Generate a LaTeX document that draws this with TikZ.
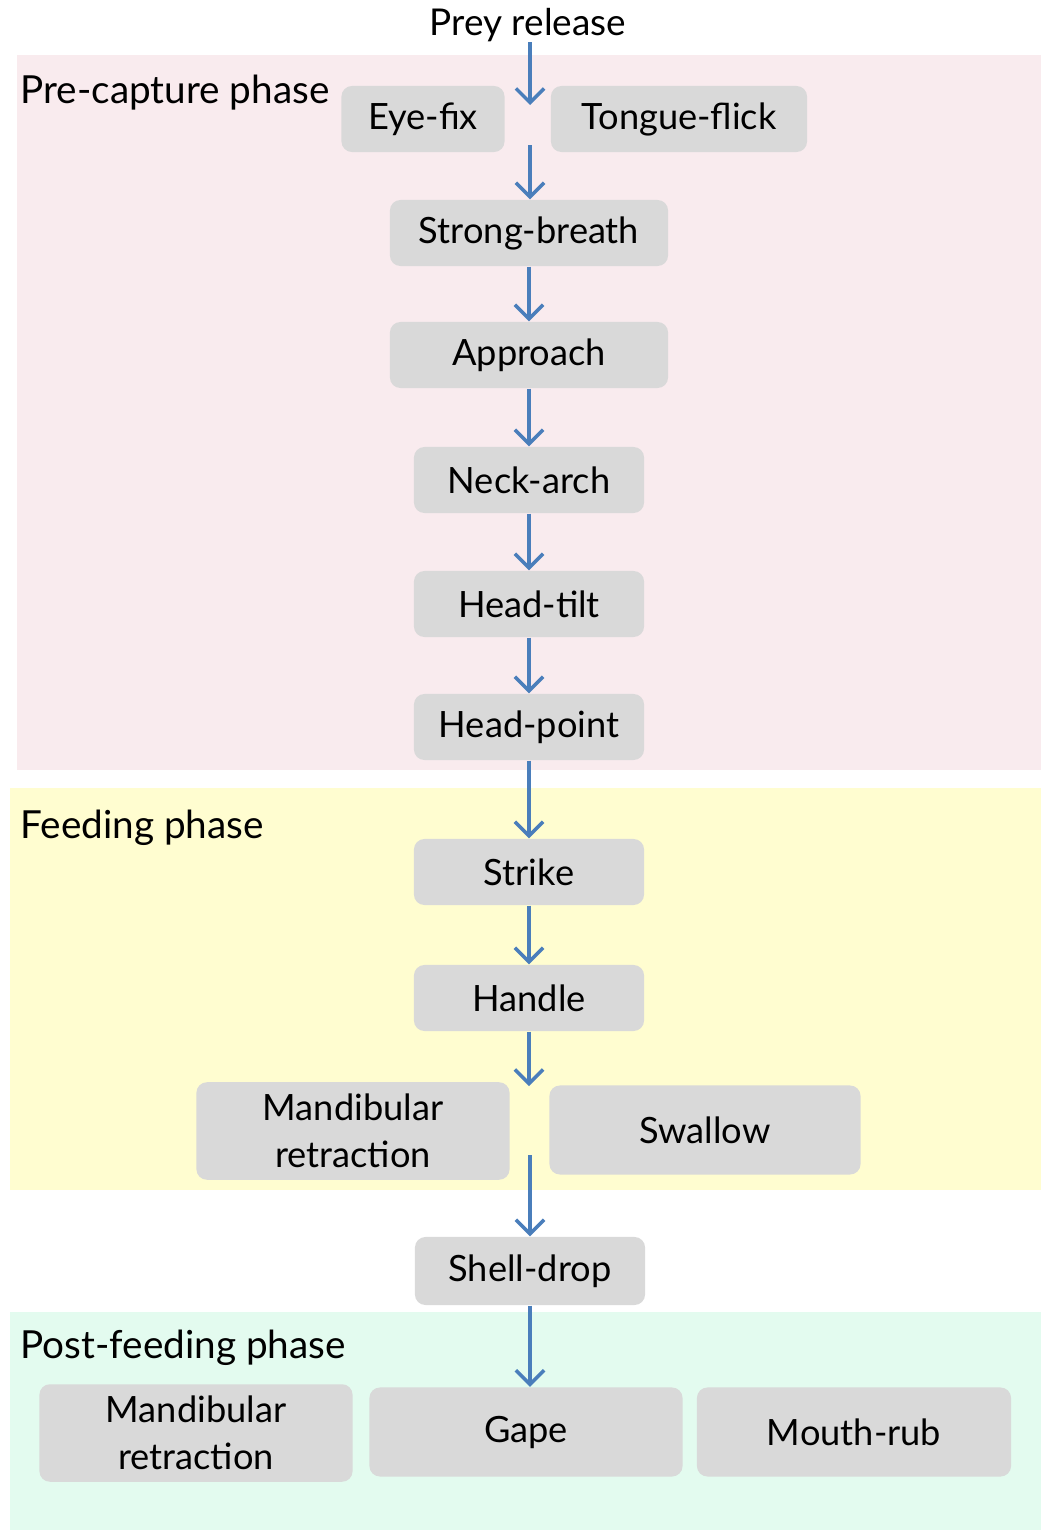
\documentclass[tikz,border=0pt]{standalone}
\usepackage{fontspec}
\setmainfont{Lato}
\usetikzlibrary{arrows.meta}
\definecolor{pinkbg}{RGB}{249,235,238}
\definecolor{yellowbg}{RGB}{255,253,208}
\definecolor{greenbg}{RGB}{227,251,239}
\definecolor{boxgray}{RGB}{217,217,217}
\definecolor{flowblue}{RGB}{74,126,187}
\tikzset{
  block/.style={
    rectangle,
    rounded corners=3pt,
    fill=boxgray,
    minimum height=0.66cm,
    align=center,
    font=\fontsize{10.3}{13.4}\selectfont
  }
}
\tikzset{
  phase/.style={
    anchor=west,
    inner sep=0pt,
    font=\fontsize{11}{13}\selectfont
  }
}
\tikzstyle{arrow} = [-{Straight Barb[length=4pt,width=8pt]}, draw=flowblue, line width=1pt]

\begin{document}
\begin{tikzpicture}[x=0.01cm, y=-0.01cm]
    \useasboundingbox (0,0) rectangle (1041,1530);
    % phase backgrounds
    \fill[pinkbg] (17,55) rectangle (1041,770);
    \fill[yellowbg] (10,788) rectangle (1041,1190);
    \fill[greenbg] (10,1312) rectangle (1041,1530);
    \node[phase] (pre) at (20,93) {Pre-capture phase};
    \node[phase] (feed) at (20,828) {Feeding phase};
    \node[phase] (post) at (20,1348) {Post-feeding phase};
    % behaviours
    \node[inner sep=0pt, font=\fontsize{10.5}{13}\selectfont] (prey) at (528,25) {Prey release};
    \node[block, minimum width=1.63cm] (eye) at (423,119) {Eye-fix};
    \node[block, minimum width=2.56cm] (tongue) at (679,119) {Tongue-flick};
    \node[block, minimum width=2.78cm] (breath) at (529,233) {Strong-breath};
    \node[block, minimum width=2.78cm] (approach) at (529,355) {Approach};
    \node[block, minimum width=2.30cm] (neck) at (529,480) {Neck-arch};
    \node[block, minimum width=2.30cm] (tilt) at (529,604) {Head-tilt};
    \node[block, minimum width=2.30cm] (point) at (529,727) {Head-point};
    \node[block, minimum width=2.30cm] (strike) at (529,872) {Strike};
    \node[block, minimum width=2.30cm] (handle) at (529,998) {Handle};
    \node[block, minimum width=3.13cm, minimum height=0.89cm] (mand1) at (353,1131) {Mandibular\\retraction};
    \node[block, minimum width=3.11cm, minimum height=0.89cm] (swallow) at (705,1130) {Swallow};
    \node[block, minimum width=2.30cm, minimum height=0.68cm] (shell) at (530,1271) {Shell-drop};
    \node[block, minimum width=3.13cm, minimum height=0.89cm] (mand2) at (196,1433) {Mandibular\\retraction};
    \node[block, minimum width=3.13cm, minimum height=0.89cm] (gape) at (526,1432) {Gape};
    \node[block, minimum width=3.14cm, minimum height=0.89cm] (rub) at (854,1432) {Mouth-rub};
    % free arrow ends in the gaps
    \coordinate (g1) at (530,105);
    \coordinate (g2) at (530,145);
    \coordinate (g3) at (529,1086);
    \coordinate (g4) at (530,1155);
    \draw[arrow] (prey.south -| g1) to (g1);
    \draw[arrow] (g2) to (g2 |- breath.north);
    \draw[arrow] (breath) to (approach);
    \draw[arrow] (approach) to (neck);
    \draw[arrow] (neck) to (tilt);
    \draw[arrow] (tilt) to (point);
    \draw[arrow] (point) to (strike);
    \draw[arrow] (strike) to (handle);
    \draw[arrow] (handle.south -| g3) to (g3);
    \draw[arrow] (g4) to (g4 |- shell.north);
    \draw[arrow] (shell.south) to (shell.south |- gape.north);
\end{tikzpicture}
\end{document}
